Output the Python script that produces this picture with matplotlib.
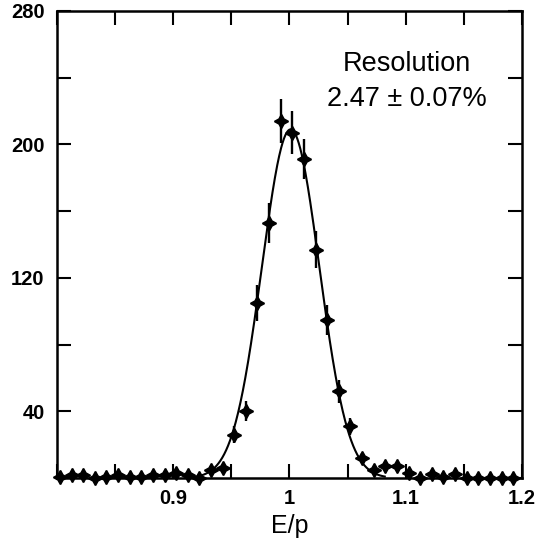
import numpy as np
import matplotlib
matplotlib.use("Agg")
import matplotlib.pyplot as plt
from matplotlib.ticker import FixedLocator, FixedFormatter

# ---- data ----
bin_centers = [0.8025 + 0.01 * i for i in range(40)]
counts = [1, 2, 2, 0, 1, 2, 1, 1, 2, 2,
          3, 2, 0, 5, 6, 26, 40, 105, 153, 214,
          207, 191, 137, 95, 52, 31, 12, 5, 7, 7,
          3, 0, 2.5, 1, 2.5, 0, 0, 0, 0, 0]
count_errors = [0, 0, 0, 0, 0, 0, 0, 0, 0, 0,
                0, 0, 0, 2, 2, 5, 6, 11, 12, 13,
                13, 12, 11, 9, 7, 5, 3, 2, 2, 2,
                0, 0, 0, 0, 0, 0, 0, 0, 0, 0]

fit_amplitude = 209.0
fit_mean = 1.001
fit_sigma = 0.0247
fit_range = (0.918, 1.082)

x_major_ticks = [0.8, 0.85, 0.9, 0.95, 1.0, 1.05, 1.1, 1.15, 1.2]
x_tick_labels = ["", "", "0.9", "", "1", "", "1.1", "", "1.2"]
y_major_ticks = [0, 40, 80, 120, 160, 200, 240, 280]
y_tick_labels = ["", "40", "", "120", "", "200", "", "280"]

annotation_lines = ["Resolution", "2.47 \u00b1 0.07%"]
x_label = "E/p"

# ---- figure ----
plt.rcParams['font.family'] = ['Liberation Sans', 'DejaVu Sans']
fig = plt.figure(figsize=(5.45, 5.44), dpi=100)
ax = fig.add_axes([0.1046, 0.121, 0.853, 0.859])

xf = np.linspace(fit_range[0], fit_range[1], 400)
yf = fit_amplitude * np.exp(-0.5 * ((xf - fit_mean) / fit_sigma) ** 2)
ax.plot(xf, yf, color='black', lw=1.5, zorder=2)

ax.errorbar(bin_centers, counts, yerr=count_errors, fmt='none',
            ecolor='black', elinewidth=1.7, capsize=0, zorder=3, clip_on=False)
ax.plot(bin_centers, counts, linestyle='none', marker=(4, 1, 0),
        markersize=10, color='black', markeredgewidth=1.2, zorder=4, clip_on=False)

ax.set_xlim(0.8, 1.2)
ax.set_ylim(0, 280)

ax.xaxis.set_major_locator(FixedLocator(x_major_ticks))
ax.xaxis.set_major_formatter(FixedFormatter(x_tick_labels))
ax.yaxis.set_major_locator(FixedLocator(y_major_ticks))
ax.yaxis.set_major_formatter(FixedFormatter(y_tick_labels))

ax.tick_params(direction='in', length=10, width=1.5, top=True, right=True,
               labelsize=14.5, colors='black')
ax.tick_params(axis='x', pad=8)
ax.tick_params(axis='y', pad=9)
for lab in ax.get_xticklabels() + ax.get_yticklabels():
    lab.set_fontweight('bold')
for sp in ax.spines.values():
    sp.set_linewidth(1.8)

ax.set_xlabel(x_label, fontsize=18, labelpad=4)

ax.text(1.101, 248, annotation_lines[0], ha='center', va='center', fontsize=19.5)
ax.text(1.101, 227, annotation_lines[1], ha='center', va='center', fontsize=19.5)

fig.savefig("out.png", dpi=100, facecolor='white')
